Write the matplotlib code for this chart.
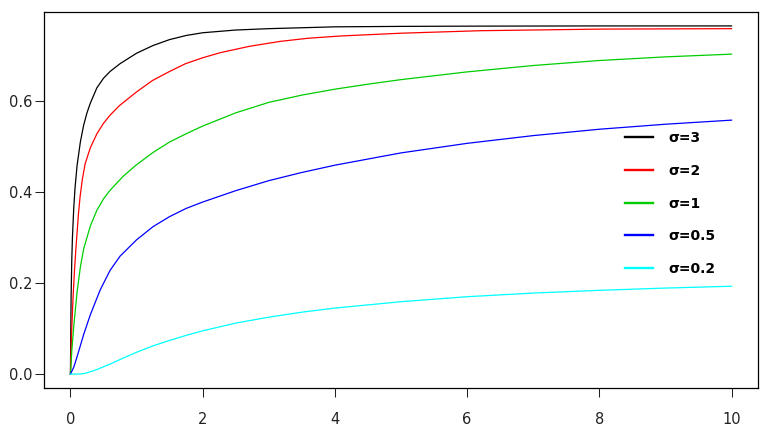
import numpy as np
import matplotlib.pyplot as plt

# values (one list per sigma)
x_s3 = [0.0, 0.01, 0.02, 0.03, 0.05, 0.07, 0.1, 0.15, 0.2, 0.25, 0.3, 0.4, 0.5, 0.6, 0.75, 1.0, 1.25, 1.5, 1.75, 2.0, 2.5, 3.0, 3.5, 4.0, 5.0, 6.0, 8.0, 10.0]
y_s3 = [0.0, 0.17, 0.25, 0.30, 0.365, 0.41, 0.458, 0.51, 0.547, 0.574, 0.595, 0.629, 0.65, 0.665, 0.682, 0.705, 0.722, 0.735, 0.744, 0.75, 0.756, 0.759, 0.761, 0.763, 0.764, 0.7645, 0.765, 0.765]

x_s2 = [0.0, 0.01, 0.02, 0.04, 0.06, 0.08, 0.1, 0.12, 0.146, 0.18, 0.222, 0.3, 0.4, 0.5, 0.6, 0.742, 1.0, 1.24, 1.5, 1.74, 2.0, 2.26, 2.7, 3.17, 3.6, 4.1, 5.0, 6.2, 8.0, 10.0]
y_s2 = [0.0, 0.06, 0.10, 0.17, 0.225, 0.27, 0.31, 0.35, 0.39, 0.428, 0.462, 0.497, 0.528, 0.551, 0.569, 0.59, 0.62, 0.645, 0.665, 0.682, 0.695, 0.706, 0.72, 0.731, 0.738, 0.743, 0.749, 0.7545, 0.758, 0.759]

x_s1 = [0.0, 0.02, 0.05, 0.1, 0.15, 0.2, 0.3, 0.4, 0.5, 0.6, 0.8, 1.0, 1.25, 1.5, 1.75, 2.0, 2.5, 3.0, 3.5, 4.0, 4.5, 5.0, 6.0, 7.0, 8.0, 9.0, 10.0]
y_s1 = [0.0, 0.05, 0.105, 0.18, 0.235, 0.275, 0.325, 0.36, 0.385, 0.404, 0.435, 0.46, 0.487, 0.51, 0.528, 0.545, 0.574, 0.597, 0.613, 0.626, 0.637, 0.647, 0.664, 0.678, 0.689, 0.697, 0.703]

x_s05 = [0.0, 0.05, 0.1, 0.2, 0.3, 0.45, 0.6, 0.75, 1.0, 1.25, 1.5, 1.75, 2.0, 2.5, 3.0, 3.5, 4.0, 5.0, 6.0, 7.0, 8.0, 9.0, 10.0]
y_s05 = [0.0, 0.015, 0.038, 0.087, 0.13, 0.185, 0.228, 0.259, 0.295, 0.324, 0.346, 0.364, 0.378, 0.403, 0.425, 0.443, 0.459, 0.486, 0.507, 0.524, 0.538, 0.549, 0.558]

x_s02 = [0.0, 0.1, 0.2, 0.3, 0.4, 0.5, 0.6, 0.75, 1.0, 1.25, 1.5, 1.75, 2.0, 2.5, 3.0, 3.5, 4.0, 5.0, 6.0, 7.0, 8.0, 9.0, 10.0]
y_s02 = [0.0, 0.0, 0.001, 0.005, 0.01, 0.016, 0.022, 0.032, 0.048, 0.062, 0.074, 0.085, 0.095, 0.112, 0.125, 0.136, 0.145, 0.159, 0.17, 0.178, 0.184, 0.189, 0.193]

labels = ["σ=3", "σ=2", "σ=1", "σ=0.5", "σ=0.2"]
colors = ["black", "#FF0000", "#00CD00", "#0000FF", "#00FFFF"]

plt.rcParams['font.family'] = ['DejaVu Sans']

fig = plt.figure(figsize=(7.74, 4.37), dpi=100)
ax = fig.add_axes([44 / 774, 49 / 437, 714 / 774, 376 / 437])

series = [(x_s3, y_s3), (x_s2, y_s2), (x_s1, y_s1), (x_s05, y_s05), (x_s02, y_s02)]
for (xs, ys), lab, col in zip(series, labels, colors):
    ax.plot(xs, ys, color=col, lw=0.9, label=lab)

ax.set_xlim(-0.4, 10.4)
ax.set_ylim(-0.0306, 0.7956)
ax.set_xticks([0, 2, 4, 6, 8, 10])
ax.set_yticks([0.0, 0.2, 0.4, 0.6])
ax.set_yticklabels(["0.0", "0.2", "0.4", "0.6"])
ax.tick_params(axis='x', length=6.5, width=0.75, pad=11, labelsize=10.5, colors='#222222')
ax.tick_params(axis='y', length=6.5, width=0.75, pad=2, labelsize=10.5, colors='#222222')
for sp in ax.spines.values():
    sp.set_linewidth(0.9)
    sp.set_color('black')

leg = ax.legend(loc='upper left', bbox_to_anchor=(625 / 774, 1 - 131 / 437),
                bbox_transform=fig.transFigure, frameon=False, borderpad=0,
                borderaxespad=0, handlelength=2.0, handletextpad=1.1,
                labelspacing=1.35, prop={'weight': 'bold', 'size': 10})
for line in leg.get_lines():
    line.set_linewidth(1.7)

fig.savefig("out.png", dpi=100)
